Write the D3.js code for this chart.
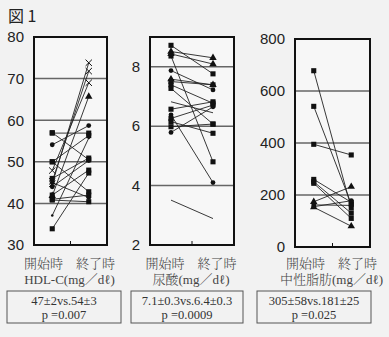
<!DOCTYPE html>
<html><head><meta charset="utf-8">
<script src="https://cdn.jsdelivr.net/npm/d3@7"></script>
<style>
html,body{margin:0;padding:0;background:#f2f2f2;}
svg{display:block;}
</style></head>
<body>
<svg id="c" width="389" height="337"></svg>
<script>
// ---- data ----
const title = "図 1";
const timeLabels = ["開始時", "終了時"];

const hdlTicks = [30, 40, 50, 60, 70, 80];
const hdlStart = [44.7, 45.3, 47.9, 41.8, 54.1, 56.9, 50.0, 37.1, 46.0, 57.0, 44.0, 42.0, 33.9, 50.0, 41.0, 45.0, 40.8];
const hdlEnd   = [73.8, 71.8, 69.0, 65.7, 58.7, 56.9, 56.3, 55.7, 50.9, 50.5, 50.3, 48.0, 47.3, 42.8, 42.0, 41.4, 40.4];
const hdlSym   = ["cross","cross","cross","triangle","circle","square","square","small","square","square","circle","square","square","square","square","circle","square"];

const uaTicks = [2, 4, 6, 8];
const uaStart = [8.72, 8.51, 8.43, 8.36, 7.87, 7.58, 7.50, 7.39, 7.27, 6.82, 6.57, 6.38, 6.26, 6.15, 5.98, 5.79, 3.51];
const uaEnd   = [7.76, 8.30, 8.09, 4.80, 7.22, 7.39, 7.39, 6.77, 6.07, 6.45, 6.82, 4.10, 6.71, 5.76, 6.07, 6.65, 2.89];
const uaSym   = ["square","triangle","triangle","square","circle","triangle","square","square","square","none","square","circle","square","square","square","circle","none"];

const tgTicks = [0, 200, 400, 600, 800];
const tgStart = [678, 541, 395, 260, 251, 245, 174, 162, 153, 155];
const tgEnd   = [150, 165, 354, 172, 130, 110, 232, 160, 80, 178];
const tgSym   = ["square","square","square","square","square","square","triangle","circle","triangle","circle"];

const itemLabels = ["HDL-C(mg／dℓ)", "尿酸(mg／dℓ)", "中性脂肪(mg／dℓ)"];
const statLine1 = ["47±2vs.54±3", "7.1±0.3vs.6.4±0.3", "305±58vs.181±25"];
const statLine2 = ["p =0.007", "p =0.0009", "p =0.025"];

// ---- drawing ----
const svg = d3.select("#c");
svg.append("text").attr("x", 8).attr("y", 22)
  .attr("font-family", "'Noto Sans CJK JP', sans-serif").attr("font-size", 16)
  .attr("fill", "#222").text(title);

const panels = [
  {x0: 34, x1: 107, y0: 37, y1: 245, domain: [30, 80], ticks: hdlTicks, s: hdlStart, e: hdlEnd, sym: hdlSym, box: [7, 121]},
  {x0: 150, x1: 234, y0: 37, y1: 245, domain: [2, 9], ticks: uaTicks, s: uaStart, e: uaEnd, sym: uaSym, box: [131, 243]},
  {x0: 295, x1: 370, y0: 39, y1: 247, domain: [0, 800], ticks: tgTicks, s: tgStart, e: tgEnd, sym: tgSym, box: [257, 371]}
];

function drawMarker(g, type, x, y) {
  if (type === "none") return;
  let sh;
  if (type === "square") sh = d3.symbolSquare;
  else if (type === "circle") sh = d3.symbolCircle;
  else if (type === "triangle") sh = d3.symbolTriangle;
  else if (type === "cross") sh = d3.symbolTimes;
  else if (type === "small") sh = d3.symbolCircle;
  const size = type === "square" ? 26 : type === "circle" ? 18 : type === "triangle" ? 24 : type === "small" ? 5 : 28;
  const p = g.append("path").attr("d", d3.symbol(sh, size)()).attr("transform", `translate(${x},${y})`);
  if (type === "cross") p.attr("fill", "none").attr("stroke", "#111").attr("stroke-width", 1);
  else p.attr("fill", "#111");
}

const jf = "'Liberation Serif', 'Noto Serif CJK JP', 'Noto Sans CJK JP', serif";

panels.forEach((P, i) => {
  const g = svg.append("g");
  const y = d3.scaleLinear().domain(P.domain).range([P.y1, P.y0]);
  const x = d3.scalePoint().domain(timeLabels).range([P.x0, P.x1]).padding(0.5);

  g.append("rect").attr("x", P.x0).attr("y", P.y0).attr("width", P.x1 - P.x0).attr("height", P.y1 - P.y0)
    .attr("fill", "#f7f7f7");

  // grid
  g.selectAll("line.grid").data(P.ticks.filter(t => t > P.domain[0] && t < P.domain[1]))
    .join("line").attr("x1", P.x0).attr("x2", P.x1)
    .attr("y1", d => y(d)).attr("y2", d => y(d))
    .attr("stroke", "#666").attr("stroke-width", 1.5);

  // axis labels
  const ax = d3.axisLeft(y).tickValues(P.ticks).tickFormat(d3.format("d")).tickSize(0).tickPadding(10);
  const axg = g.append("g").attr("transform", `translate(${P.x0},0)`).call(ax);
  axg.select(".domain").remove();
  axg.selectAll("text").attr("font-family", "'Liberation Sans', Arial, sans-serif")
    .attr("font-size", 15).attr("fill", "#222");

  // lines
  P.s.forEach((v, k) => {
    g.append("line").attr("x1", x(timeLabels[0])).attr("y1", y(v))
      .attr("x2", x(timeLabels[1])).attr("y2", y(P.e[k]))
      .attr("stroke", "#222").attr("stroke-width", 0.9);
  });
  P.s.forEach((v, k) => {
    drawMarker(g, P.sym[k], x(timeLabels[0]), y(v));
    drawMarker(g, P.sym[k], x(timeLabels[1]), y(P.e[k]));
  });

  // frame
  g.append("rect").attr("x", P.x0).attr("y", P.y0).attr("width", P.x1 - P.x0).attr("height", P.y1 - P.y0)
    .attr("fill", "none").attr("stroke", "#111").attr("stroke-width", 2);
  const mid = (P.x0 + P.x1) / 2;
  g.append("line").attr("x1", mid).attr("x2", mid).attr("y1", P.y1).attr("y2", P.y1 - 4)
    .attr("stroke", "#111").attr("stroke-width", 1);

  // x labels
  const cx = mid - 1;
  g.append("text").attr("x", cx).attr("y", 268).attr("text-anchor", "middle")
    .attr("font-family", jf).attr("font-size", 13).attr("font-weight", 300).attr("fill", "#444")
    .text(timeLabels[0] + "　" + timeLabels[1]);
  g.append("text").attr("x", cx).attr("y", 284).attr("text-anchor", "middle")
    .attr("font-family", jf).attr("font-size", 13).attr("font-weight", 300).attr("fill", "#444")
    .text(itemLabels[i]);

  // stat box
  g.append("rect").attr("x", P.box[0]).attr("y", 291).attr("width", P.box[1] - P.box[0]).attr("height", 32)
    .attr("fill", "none").attr("stroke", "#555").attr("stroke-width", 1);
  const bx = (P.box[0] + P.box[1]) / 2;
  g.append("text").attr("x", bx).attr("y", 304.5).attr("text-anchor", "middle")
    .attr("font-family", jf).attr("font-size", 12.5).attr("fill", "#333").text(statLine1[i]);
  g.append("text").attr("x", bx).attr("y", 319).attr("text-anchor", "middle")
    .attr("font-family", jf).attr("font-size", 12.5).attr("fill", "#333").text(statLine2[i]);
});
</script>
</body></html>
